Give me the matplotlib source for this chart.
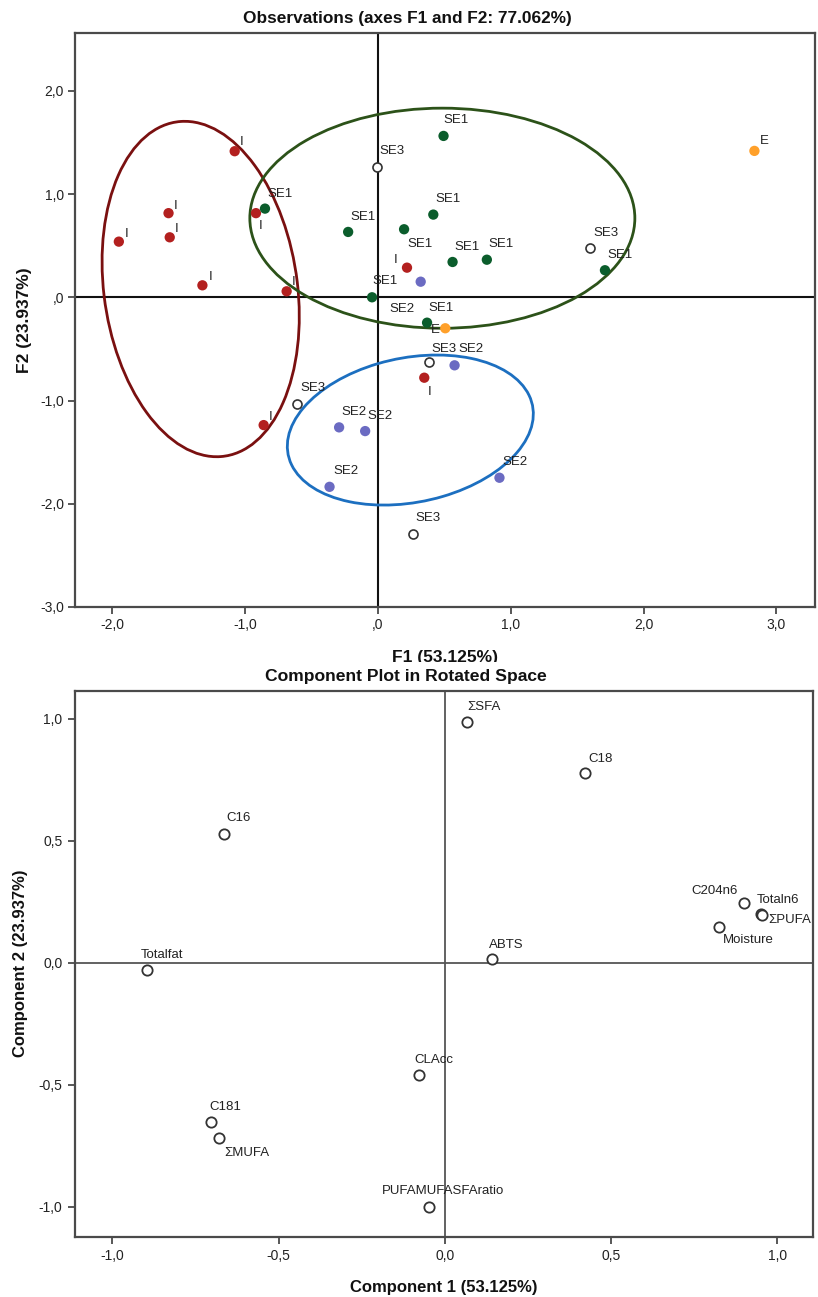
import matplotlib
matplotlib.use("Agg")
import matplotlib.pyplot as plt
from matplotlib.patches import Ellipse, Rectangle
from matplotlib.ticker import FixedLocator, FixedFormatter

# ---------------- data: observations (top) ----------------
I_x = [-1.078, -1.576, -1.567, -1.950, -1.321, -0.918, -0.687, 0.219, 0.349, -0.860]
I_y = [1.415, 0.815, 0.581, 0.539, 0.116, 0.815, 0.058, 0.287, -0.779, -1.238]
SE1_x = [0.494, -0.850, -0.224, 0.197, 0.417, 0.562, 0.820, -0.044, 0.370, 1.709]
SE1_y = [1.563, 0.859, 0.633, 0.659, 0.801, 0.342, 0.364, 0.000, -0.246, 0.262]
SE2_x = [0.322, 0.577, -0.292, -0.096, -0.364, 0.915]
SE2_y = [0.151, -0.659, -1.260, -1.296, -1.836, -1.748]
SE3_x = [-0.006, 1.597, 0.382, -0.607, 0.261]
SE3_y = [1.266, 0.478, -0.627, -1.037, -2.297]
E_x = [2.834, 0.507]
E_y = [1.418, -0.300]

ell_centers = [(-1.334, 0.080), (0.485, 0.766), (0.244, -1.286)]
ell_widths = [1.46, 2.898, 1.91]
ell_heights = [3.26, 2.132, 1.376]
ell_angles = [5.3, 0.0, 20.7]

top_xticks = [-2, -1, 0, 1, 2, 3]
top_xticklabels = ["-2,0", "-1,0", ",0", "1,0", "2,0", "3,0"]
top_yticks = [-3, -2, -1, 0, 1, 2]
top_yticklabels = ["-3,0", "-2,0", "-1,0", ",0", "1,0", "2,0"]

# ---------------- data: component plot (bottom) ----------------
var_names = ["\u03a3SFA", "C18", "C16", "C204n6", "Totaln6", "\u03a3PUFA", "Moisture",
             "Totalfat", "ABTS", "CLAcc", "C181", "\u03a3MUFA", "PUFAMUFASFAratio"]
comp1 = [0.068, 0.422, -0.664, 0.900, 0.950, 0.955, 0.823, -0.896, 0.141, -0.079, -0.703, -0.679, -0.049]
comp2 = [0.986, 0.776, 0.526, 0.246, 0.200, 0.194, 0.148, -0.029, 0.014, -0.461, -0.654, -0.718, -1.000]

bot_ticks = [-1.0, -0.5, 0.0, 0.5, 1.0]
bot_ticklabels = ["-1,0", "-0,5", "0,0", "0,5", "1,0"]

# ---------------- styles ----------------
REG = ["Liberation Sans", "DejaVu Sans"]
plt.rcParams["font.family"] = REG

col_I = "#b3201f"
col_SE1 = "#0b5d2c"
col_SE2 = "#6b6bc2"
col_E = "#ffa02a"
ell_cols = ["#7a1010", "#2c5219", "#1c6fc0"]
spine_col = "#4a4a4a"

fig = plt.figure(figsize=(8.18, 12.97), dpi=100)
W, H = 818.0, 1297.0

def axrect(l, t, r, b):
    return [l / W, 1 - b / H, (r - l) / W, (b - t) / H]

# ================= top axes =================
ax = fig.add_axes(axrect(75, 33, 815, 607))
ax.set_zorder(0)
ax.set_xlim(-2.28, 3.29)
ax.set_ylim(-3.0, 2.56)
ax.axhline(0, color="#111111", lw=1.5, zorder=1)
ax.axvline(0, color="#111111", lw=1.5, zorder=1)

for c, w, h, a, col in zip(ell_centers, ell_widths, ell_heights, ell_angles, ell_cols):
    ax.add_patch(Ellipse(c, w, h, angle=a, fill=False, edgecolor=col, lw=2.0, zorder=2))

ms = 55
ax.scatter(I_x, I_y, s=ms, color=col_I, edgecolors="none", zorder=3)
ax.scatter(SE1_x, SE1_y, s=ms, color=col_SE1, edgecolors="none", zorder=3)
ax.scatter(SE2_x, SE2_y, s=ms, color=col_SE2, edgecolors="none", zorder=3)
ax.scatter(E_x, E_y, s=ms, color=col_E, edgecolors="none", zorder=3)
ax.scatter(SE3_x, SE3_y, s=42, facecolors="white", edgecolors="#333333", lw=1.2, zorder=3)

# label offsets in pixels (dx right, dy up), label centred
I_off = [(7, 9), (7, 7), (7, 8), (8, 8), (8, 8), (5, -13), (7, 9), (-11, 8), (5, -14), (7, 8)]
SE1_off = [(13, 16), (15, 15), (15, 15), (16, -15), (15, 16), (14, 15), (14, 16), (13, 16), (14, 15), (15, 15)]
SE2_off = [(-19, -27), (16, 16), (15, 15), (15, 15), (16, 16), (16, 16)]
SE3_off = [(15, 16), (16, 15), (15, 13), (16, 16), (15, 16)]
E_off = [(10, 10), (-10, -2)]

def lab(axis, xs, ys, text, offs, size):
    for x, y, o in zip(xs, ys, offs):
        axis.annotate(text, (x, y), xytext=o, textcoords="offset pixels",
                      ha="center", va="center", fontsize=size, color="#222222",
                      family=REG, zorder=4)

lab(ax, I_x, I_y, "I", I_off, 9.5)
lab(ax, SE1_x, SE1_y, "SE1", SE1_off, 9.5)
lab(ax, SE2_x, SE2_y, "SE2", SE2_off, 9.5)
lab(ax, SE3_x, SE3_y, "SE3", SE3_off, 9.5)
lab(ax, E_x, E_y, "E", E_off, 9.5)

ax.xaxis.set_major_locator(FixedLocator(top_xticks))
ax.xaxis.set_major_formatter(FixedFormatter(top_xticklabels))
ax.yaxis.set_major_locator(FixedLocator(top_yticks))
ax.yaxis.set_major_formatter(FixedFormatter(top_yticklabels))
ax.tick_params(direction="out", length=5, width=1.3, color=spine_col, labelsize=10,
               labelcolor="#222222", pad=3)
for s in ax.spines.values():
    s.set_color(spine_col)
    s.set_linewidth(1.6)

ax.set_title("Observations (axes F1 and F2: 77.062%)", fontsize=12.4, fontweight="bold",
             color="#111111", pad=7, x=0.4486)
ax.set_xlabel("F1 (53.125%)", fontsize=12.5, fontweight="bold",
              color="#111111", labelpad=13)
ax.set_ylabel("F2 (23.937%)", fontsize=12.5, fontweight="bold",
              color="#111111", labelpad=6)

# mask under the top chart (the lower chart overlaps the x label)
fig.add_artist(Rectangle((0, 0), 1, (H - 662) / H, transform=fig.transFigure,
                         facecolor="white", edgecolor="none", zorder=0.5))

# ================= bottom axes =================
bx = fig.add_axes(axrect(75, 690.7, 813, 1236.7))
bx.set_zorder(1)
bx.set_xlim(-1.112, 1.107)
bx.set_ylim(-1.122, 1.115)
bx.axhline(0, color="#555555", lw=1.3, zorder=1)
bx.axvline(0, color="#555555", lw=1.3, zorder=1)
bx.scatter(comp1, comp2, s=55, facecolors="white", edgecolors="#333333", lw=1.3, zorder=3)

var_off = [(16, 15), (15, 14), (15, 16), (-30, 12), (17, 14), (27, -5), (30, -13),
           (15, 15), (15, 14), (15, 15), (14, 15), (28, -15), (14, 16)]
for x, y, n, o in zip(comp1, comp2, var_names, var_off):
    bx.annotate(n, (x, y), xytext=o, textcoords="offset pixels", ha="center", va="center",
                fontsize=9.5, color="#222222", family=REG, zorder=4)

bx.xaxis.set_major_locator(FixedLocator(bot_ticks))
bx.xaxis.set_major_formatter(FixedFormatter(bot_ticklabels))
bx.yaxis.set_major_locator(FixedLocator(bot_ticks))
bx.yaxis.set_major_formatter(FixedFormatter(bot_ticklabels))
bx.tick_params(direction="out", length=5, width=1.3, color=spine_col, labelsize=10,
               labelcolor="#222222", pad=4)
for s in bx.spines.values():
    s.set_color(spine_col)
    s.set_linewidth(1.6)

bx.set_title("Component Plot in Rotated Space", fontsize=12.6, fontweight="bold",
             color="#111111", pad=7, x=0.4485)
bx.set_xlabel("Component 1 (53.125%)", fontsize=12, fontweight="bold", color="#111111",
              labelpad=12)
bx.set_ylabel("Component 2 (23.937%)", fontsize=12, fontweight="bold", color="#111111",
              labelpad=8)

fig.savefig("out.png", dpi=100)
